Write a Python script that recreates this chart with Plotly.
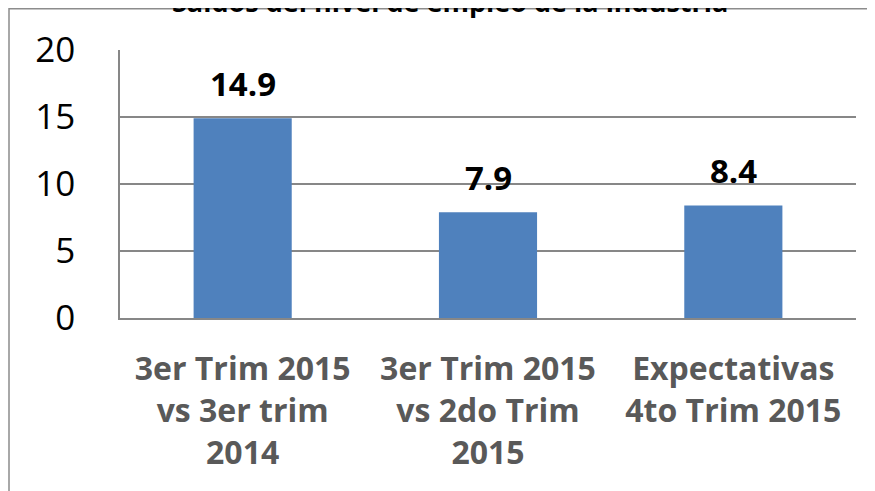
import plotly.graph_objects as go

title_text = "Saldos del nivel de empleo de la industria"
categories = [
    "3er Trim 2015<br>vs 3er trim<br>2014",
    "3er Trim 2015<br>vs 2do Trim<br>2015",
    "Expectativas<br>4to Trim 2015",
]
values = [14.9, 7.9, 8.4]
y_ticks = [0, 5, 10, 15, 20]

# page offset of the figure (browser body margin)
OX, OY = 8, 8
W, H = 875 - OX, 491 - OY
PL, PR, PT, PB = 120, 856, 50, 318  # plot area in page pixels
ML, MT = PL - OX, PT - OY
MR = W - (PR - OX)
MB = H - (PB - OY)
pw, ph = PR - PL, PB - PT

def px2x(px):
    return (px - PL) / pw

def px2y(py):
    return (PB - py) / ph

grid = "#878787"
fig = go.Figure()
fig.add_trace(go.Bar(
    x=categories, y=values,
    marker=dict(color="#4F81BD", line=dict(width=0)),
    hoverinfo="skip",
))

annotations = []
for c, v in zip(categories, values):
    annotations.append(dict(
        x=c, y=v, xref="x", yref="y", text=f"<b>{v:.1f}</b>",
        showarrow=False, yanchor="bottom", yshift=10,
        font=dict(family="Open Sans", size=33, color="#000000"),
    ))
annotations.append(dict(
    x=px2x(450), y=px2y(1), xref="paper", yref="paper",
    text=f"<b>{title_text}</b>", showarrow=False,
    xanchor="center", yanchor="middle",
    font=dict(family="Open Sans", size=27, color="#000000"),
))

fig.update_layout(
    width=W, height=H,
    margin=dict(l=ML, r=MR, t=MT, b=MB, pad=0),
    paper_bgcolor="white", plot_bgcolor="white",
    showlegend=False, bargap=0.6,
    annotations=annotations,
    shapes=[dict(
        type="rect", xref="paper", yref="paper",
        x0=px2x(9), x1=px2x(885), y0=px2y(500), y1=px2y(8.75),
        line=dict(color="#8C8C8C", width=1.5), fillcolor="rgba(0,0,0,0)",
        layer="below",
    )],
    xaxis=dict(
        showgrid=False, showline=True, linecolor=grid, linewidth=2,
        ticks="", tickfont=dict(family="Open Sans", size=32, color="#595959", weight="bold"),
        ticklabelstandoff=22, fixedrange=True,
    ),
    yaxis=dict(
        range=[0, 20], tickvals=y_ticks, ticktext=[str(t) for t in y_ticks],
        showgrid=True, gridcolor=grid, gridwidth=1.5,
        showline=True, linecolor=grid, linewidth=1.5,
        zeroline=False, ticks="",
        tickfont=dict(family="Open Sans", size=35, color="#000000"),
        ticklabelstandoff=36, fixedrange=True,
    ),
)

fig.write_html("out.html")
